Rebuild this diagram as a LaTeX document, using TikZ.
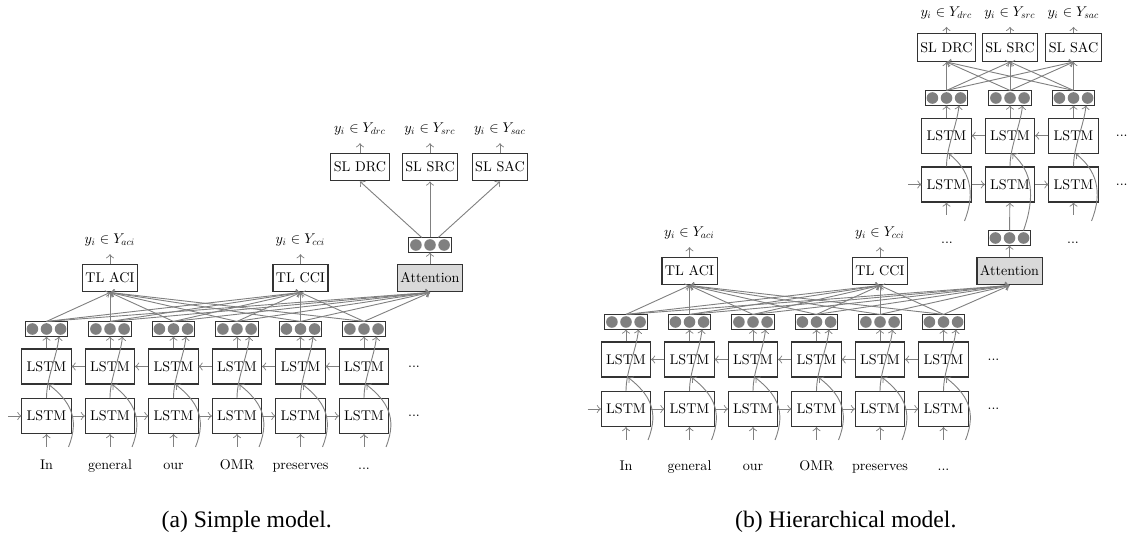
\documentclass[tikz,border=0pt]{standalone}
\usepackage{fontspec}
\newfontfamily\capfont{Liberation Serif}
\newfontfamily\dgfont{lmroman10-regular.otf}
\DeclareFontShape{OML}{cmm}{m}{it}{<->cmmi10}{}
\DeclareFontShape{OMS}{cmsy}{m}{n}{<->cmsy10}{}
\DeclareMathSizes{6.2}{6.2}{4.3}{3.7}
\newcommand{\tdots}{...}
\tikzset{lstm/.style={draw=black!80, line width=0.45pt, minimum width=21.6pt,
        minimum height=15.4pt, inner sep=0pt},
    task/.style={draw=black!80, line width=0.45pt, minimum height=12.3pt,
        inner xsep=1.3pt, inner ysep=0pt},
    attn/.style={task, fill=gray!30},
    vec/.style={draw=black!80, line width=0.45pt, minimum width=18.9pt,
        minimum height=6.2pt, inner sep=0pt,
        path picture={\foreach \k in {-1,0,1}
            \fill[gray] ([xshift=\k*6.2pt]path picture bounding box.center) circle (2.55pt);}},
    conn/.style={->, draw=gray, line width=0.4pt},
    word/.style={text height=1.5ex, text depth=0.4ex, inner sep=0pt},
    }
\begin{document}
\begin{tikzpicture}[x=0.44pt, y=-0.44pt, font=\dgfont\fontsize{6.2}{7.2}\selectfont]
\useasboundingbox (0,0) rectangle (1140,540);
% lower part, (a) and (b)
\foreach \p/\xo/\yo/\yw in {a/46.5/0/464, b/626/-7/465}{
  \node[task] (\p aci) at (\xo+63.5,278+\yo) {TL ACI};
  \node[task] (\p cci) at (\xo+254,278+\yo) {TL CCI};
  \node[attn] (\p att) at (\xo+383.5,278+\yo) {Attention};
  \node (\p yaci) at (\xo+63.5,240+\yo) {$y_i\in Y_{aci}$};
  \node (\p ycci) at (\xo+254,240+\yo) {$y_i\in Y_{cci}$};
  \node[vec] (\p ad) at (\xo+383.5,245+\yo) {};
  \draw[conn] (\p aci) -- (\p yaci);
  \draw[conn] (\p cci) -- (\p ycci);
  \draw[conn] (\p att) -- (\p ad);
  \foreach \w [count=\i] in {In,general,our,OMR,preserves,\tdots}{
    \pgfmathsetmacro\x{\xo+63.5*(\i-1)}
    \node[word] (\p w\i) at (\x,\yw) {\w};
    \coordinate (\p in\i) at (\x,447+\yo);
    \coordinate (\p cv\i) at (\x+22,447+\yo);
    \node[lstm] (\p fw\i) at (\x,416+\yo) {LSTM};
    \node[lstm] (\p bw\i) at (\x,366.5+\yo) {LSTM};
    \node[vec] (\p h\i) at (\x,329+\yo) {};
    \draw[conn] (\p in\i) -- (\p fw\i);
    \draw[conn] (\p cv\i) .. controls +(12,-30) and +(20,16) .. ([xshift=1pt]\p bw\i.south);
    \draw[conn] (\p fw\i.north) .. controls +(0,-20) and +(-2,20) .. ([xshift=-4.2pt]\p h\i.south east);
    \draw[conn] (\p bw\i) -- (\p h\i);
    \foreach \tk in {aci,cci,att}
      \draw[conn] (\p h\i.north) -- (\p\tk.south);
  }
  \foreach \i [evaluate=\i as \j using int(\i+1)] in {1,...,5}{
    \draw[conn] (\p fw\i) -- (\p fw\j);
    \draw[conn] (\p bw\j) -- (\p bw\i);
  }
  \coordinate (\p left) at (\xo-38.5,416+\yo);
  \draw[conn] (\p left) -- (\p fw1);
  \node (\p mf) at (\xo+367.5,416+\yo) {\tdots};
  \node (\p mb) at (\xo+367.5,366.5+\yo) {\tdots};
}
% sentence layer of (a)
\foreach \tk/\lab/\x in {drc/DRC/360, src/SRC/430, sac/SAC/500}{
  \node[task] (asl\tk) at (\x,167) {SL \lab};
  \node (ay\tk) at (\x,129) {$y_i\in Y_{\tk}$};
  \draw[conn] (aad) -- (asl\tk.south);
  \draw[conn] (asl\tk) -- (ay\tk);
}
% upper layer of (b)
\foreach \tk/\lab [count=\i] in {drc/DRC, src/SRC, sac/SAC}{
  \pgfmathsetmacro\x{946.5+63.5*(\i-1)}
  \node[lstm] (ufw\i) at (\x,184.5) {LSTM};
  \node[lstm] (ubw\i) at (\x,135.7) {LSTM};
  \node[vec] (uh\i) at (\x,98) {};
  \node[task] (bsl\tk) at (\x,47.5) {SL \lab};
  \node (by\tk) at (\x,12.7) {$y_i\in Y_{\tk}$};
  \draw[conn] (bsl\tk) -- (by\tk);
  \draw[conn] (ubw\i) -- (uh\i);
  \draw[conn] (ufw\i.north) .. controls +(0,-20) and +(-2,20) .. ([xshift=-4.2pt]uh\i.south east);
}
\foreach \i in {1,2,3}
  \foreach \tk in {drc,src,sac}
    \draw[conn] (uh\i.north) -- (bsl\tk.south);
\foreach \i/\x in {1/946.5, 3/1073.5}{
  \coordinate (uin\i) at (\x,215);
  \coordinate (ucv\i) at (\x+18,221);
  \draw[conn] (uin\i) -- (ufw\i);
  \draw[conn] (ucv\i) .. controls +(12,-30) and +(20,16) .. ([xshift=1pt]ubw\i.south);
}
\draw[conn] (bad) -- (ufw2);
\draw[conn] ([xshift=-3.5pt]bad.north east) .. controls +(12,-34) and +(20,18) .. ([xshift=1pt]ubw2.south);
\draw[conn] (ufw1) -- (ufw2);
\draw[conn] (ufw2) -- (ufw3);
\draw[conn] (ubw3) -- (ubw2);
\draw[conn] (ubw2) -- (ubw1);
\coordinate (uleft) at (908,184.5);
\draw[conn] (uleft) -- (ufw1);
\node (umf) at (1121.7,184.5) {\tdots};
\node (umb) at (1121.7,135.7) {\tdots};
\node (ud1) at (947,243) {\tdots};
\node (ud3) at (1073,243) {\tdots};
% captions
\node[font=\capfont\fontsize{10.4}{12.5}\selectfont] (capa) at (246.7,521.7) {(a) Simple model.};
\node[font=\capfont\fontsize{10.4}{12.5}\selectfont] (capb) at (845.8,521.7) {(b) Hierarchical model.};
\end{tikzpicture}
\end{document}
